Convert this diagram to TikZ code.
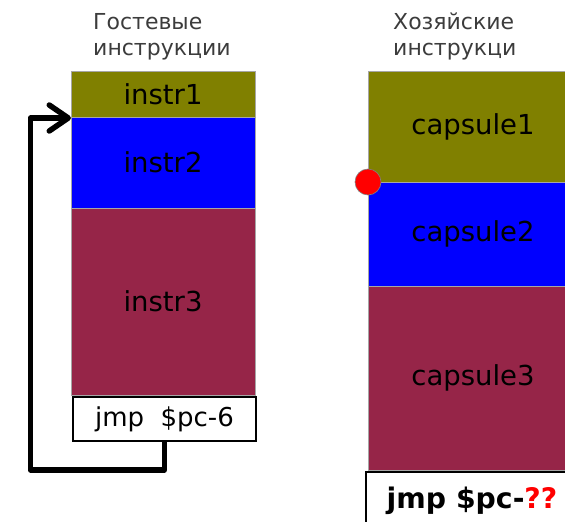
\documentclass[tikz,border=0pt]{standalone}
\usepackage{fontspec}
\setmainfont{DejaVu Sans}
\usetikzlibrary{arrows.meta}
\definecolor{olivec}{RGB}{128,128,0}
\definecolor{bluec}{RGB}{0,0,255}
\definecolor{maroonc}{RGB}{150,37,72}
\definecolor{titlec}{RGB}{60,60,60}
\begin{document}
\begin{tikzpicture}[x=1pt,y=-1pt,
  blk/.style={draw=gray!70, line width=0.8pt, inner sep=0pt, outer sep=0pt,
    anchor=north west, font=\fontsize{27.5}{30}\selectfont},
  jmpbox/.style={draw=black, fill=white, line width=2.2pt, inner sep=0pt,
    outer sep=0pt, anchor=north west},
  title/.style={text=titlec, align=left, anchor=base west, inner sep=0pt,
    font=\fontsize{22}{26}\selectfont},
  loop/.style={line width=5.5pt, line join=round,
    -{Straight Barb[length=19pt,width=26pt,round]}}]
\clip (0,0) rectangle (565,522);

% guest instructions
\node[title] (tg) at (93,55) {Гостевые\\инструкции};
\node[blk, fill=olivec, minimum width=184pt, minimum height=46pt] (i1) at (71,71) {instr1};
\node[blk, fill=bluec, minimum width=184pt, minimum height=91pt] (i2) at (71,117) {instr2};
\node[blk, fill=maroonc, minimum width=184pt, minimum height=187pt] (i3) at (71,208) {instr3};
\node[jmpbox, minimum width=183pt, minimum height=44pt,
  font=\fontsize{26}{28}\selectfont] (jl) at (73,397) {jmp\ \ \$pc-6};

% host instructions
\node[title] (th) at (393,55) {Хозяйские\\инструкци};
\node[blk, fill=olivec, minimum width=210pt, minimum height=111pt] (c1) at (368,71) {capsule1};
\node[blk, fill=bluec, minimum width=210pt, minimum height=104pt] (c2) at (368,182) {capsule2};
\node[blk, fill=maroonc, minimum width=210pt, minimum height=184pt] (c3) at (368,286) {capsule3};
\node[jmpbox, minimum width=212pt, minimum height=58pt,
  font=\fontsize{28.3}{30}\selectfont\bfseries] (jr) at (366,472) {jmp \$pc-\textcolor{red}{??}};

% entry point marker
\node[circle, fill=red, draw=gray, line width=0.6pt, minimum size=26pt, inner sep=0pt] (dot) at (c1.south west) {};

% back jump
\coordinate (turn) at (30.5,470);
\draw[loop] (jl.south) |- (turn) |- ([yshift=-1pt]i1.south west);
\end{tikzpicture}
\end{document}
